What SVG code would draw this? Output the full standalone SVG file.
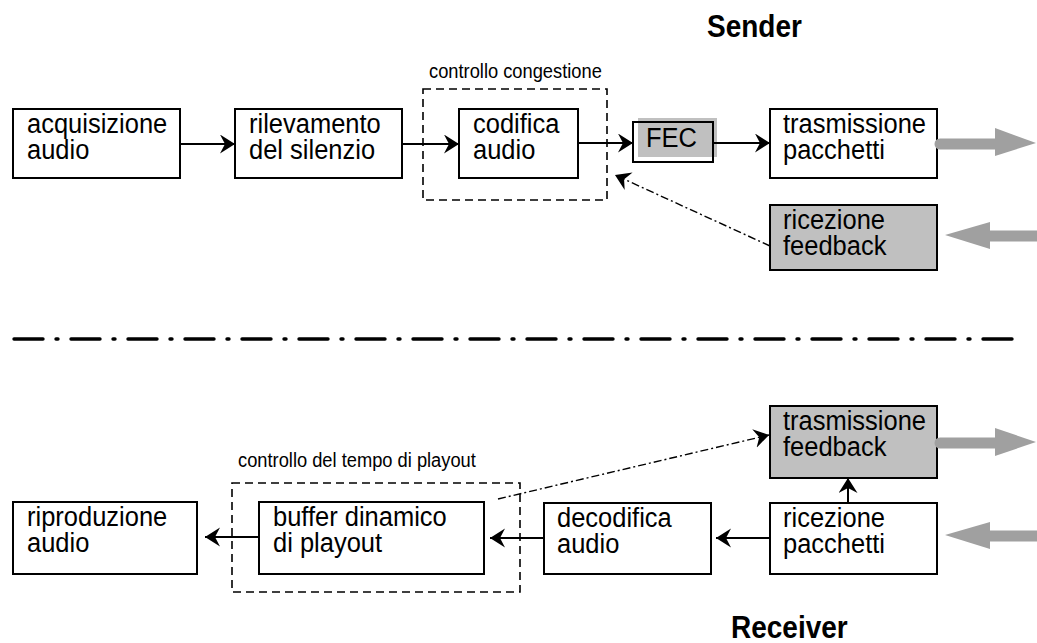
<svg xmlns="http://www.w3.org/2000/svg" width="1037" height="643" viewBox="0 0 1037 643">
  <style>
    .box { fill: #ffffff; stroke: #000000; stroke-width: 2; }
    .grey { fill: #c0c0c0; stroke: #000000; stroke-width: 2; }
    .group { fill: none; stroke: #000000; stroke-width: 1.6; stroke-dasharray: 8 5; }
    .t { font-family: "Liberation Sans", Arial, sans-serif; font-size: 25.5px; fill: #000000; }
    .small { font-family: "Liberation Sans", Arial, sans-serif; font-size: 18.3px; fill: #000000; }
    .title { font-family: "Liberation Sans", Arial, sans-serif; font-size: 28px; font-weight: bold; fill: #000000; }
    .flow { fill: none; stroke: #000000; stroke-width: 2; marker-end: url(#head); }
    .ctrl { fill: none; stroke: #000000; stroke-width: 1.4; stroke-dasharray: 8 3 2 3; marker-end: url(#head); }
    .net { fill: none; stroke: #a0a0a0; stroke-width: 11; }
    .nethead { fill: #a0a0a0; }
  </style>
  <defs>
    <marker id="head" markerUnits="userSpaceOnUse" markerWidth="17" markerHeight="20" refX="15" refY="9.5" orient="auto">
      <path d="M15,9.5 L0,0 L5,9.5 L0,19 Z" fill="#000000"/>
    </marker>
  </defs>

  <rect width="1037" height="643" fill="#ffffff"/>

  <!-- section titles (glyphs drawn slightly tall) -->
  <text class="title" transform="translate(707 37) scale(1 1.09)">Sender</text>
  <text class="title" transform="translate(731 638) scale(1 1.09)">Receiver</text>

  <!-- separator between sender and receiver -->
  <line x1="14" y1="339" x2="1024" y2="339" stroke="#000000" stroke-width="3.4" stroke-linecap="round" stroke-dasharray="29 13 2 13"/>

  <!-- grouping frames -->
  <g id="congestion-control">
    <rect class="group" x="423" y="89" width="184" height="111"/>
    <text class="small" transform="translate(429 78) scale(1 1.09)">controllo congestione</text>
  </g>
  <g id="playout-control">
    <rect class="group" x="232" y="483" width="288" height="109"/>
    <text class="small" transform="translate(238 467) scale(1 1.09)">controllo del tempo di playout</text>
  </g>

  <!-- sender nodes -->
  <g id="acquisizione">
    <rect class="box" x="13" y="109" width="167" height="69"/>
    <text class="t" transform="translate(27 133) scale(1 1.09)">acquisizione</text>
    <text class="t" transform="translate(27 158.5) scale(1 1.09)">audio</text>
  </g>
  <g id="rilevamento">
    <rect class="box" x="235" y="109" width="167" height="69"/>
    <text class="t" transform="translate(249 133) scale(1 1.09)">rilevamento</text>
    <text class="t" transform="translate(249 158.5) scale(1 1.09)">del silenzio</text>
  </g>
  <g id="codifica">
    <rect class="box" x="459" y="109" width="119" height="69"/>
    <text class="t" transform="translate(473 133) scale(1 1.09)">codifica</text>
    <text class="t" transform="translate(473 158.5) scale(1 1.09)">audio</text>
  </g>
  <g id="fec">
    <rect x="638" y="118" width="79" height="39" fill="#c0c0c0"/>
    <rect x="633" y="122" width="80" height="40" fill="none" stroke="#000000" stroke-width="2"/>
    <text class="t" transform="translate(646 147) scale(1 1.09)">FEC</text>
  </g>
  <g id="trasmissione-pacchetti">
    <rect class="box" x="770" y="109" width="167" height="69"/>
    <text class="t" transform="translate(783 133) scale(1 1.09)">trasmissione</text>
    <text class="t" transform="translate(783 158.5) scale(1 1.09)">pacchetti</text>
  </g>
  <g id="ricezione-feedback">
    <rect class="grey" x="770" y="205" width="167" height="65"/>
    <text class="t" transform="translate(783 229) scale(1 1.09)">ricezione</text>
    <text class="t" transform="translate(783 254.5) scale(1 1.09)">feedback</text>
  </g>

  <!-- receiver nodes -->
  <g id="riproduzione">
    <rect class="box" x="13" y="502" width="184" height="72"/>
    <text class="t" transform="translate(27 526) scale(1 1.09)">riproduzione</text>
    <text class="t" transform="translate(27 551.5) scale(1 1.09)">audio</text>
  </g>
  <g id="buffer">
    <rect class="box" x="259" y="502" width="225" height="72"/>
    <text class="t" transform="translate(273 526) scale(1 1.09)">buffer dinamico</text>
    <text class="t" transform="translate(273 551.5) scale(1 1.09)">di playout</text>
  </g>
  <g id="decodifica">
    <rect class="box" x="544" y="503" width="167" height="71"/>
    <text class="t" transform="translate(557 527) scale(1 1.09)">decodifica</text>
    <text class="t" transform="translate(557 552.5) scale(1 1.09)">audio</text>
  </g>
  <g id="ricezione-pacchetti">
    <rect class="box" x="770" y="503" width="167" height="71"/>
    <text class="t" transform="translate(783 527) scale(1 1.09)">ricezione</text>
    <text class="t" transform="translate(783 552.5) scale(1 1.09)">pacchetti</text>
  </g>
  <g id="trasmissione-feedback">
    <rect class="grey" x="770" y="406" width="167" height="72"/>
    <text class="t" transform="translate(783 430) scale(1 1.09)">trasmissione</text>
    <text class="t" transform="translate(783 455.5) scale(1 1.09)">feedback</text>
  </g>

  <!-- connectors -->
  <g id="connectors">
    <line class="flow" x1="180" y1="144" x2="235" y2="144"/>
    <line class="flow" x1="402" y1="144" x2="459" y2="144"/>
    <line class="flow" x1="578" y1="143" x2="633" y2="143"/>
    <line class="flow" x1="713" y1="143" x2="770" y2="143"/>
    <line class="ctrl" x1="770" y1="246" x2="615" y2="175"/>

    <line class="flow" x1="259" y1="537" x2="205" y2="537"/>
    <line class="flow" x1="544" y1="538" x2="490" y2="538"/>
    <line class="flow" x1="770" y1="538" x2="716" y2="538"/>
    <line class="flow" x1="848" y1="503" x2="848" y2="478"/>
    <line class="ctrl" x1="498" y1="499" x2="769" y2="435"/>

    <!-- network links -->
    <line class="net" x1="940" y1="144" x2="996" y2="144" stroke-linecap="round"/>
    <polygon class="nethead" points="995,128 1036,143 995,156"/>
    <line class="net" x1="989" y1="236" x2="1037" y2="236"/>
    <polygon class="nethead" points="990,222 945,235 990,249"/>
    <line class="net" x1="940" y1="443" x2="996" y2="443" stroke-linecap="round"/>
    <polygon class="nethead" points="995,428 1036,442 995,456"/>
    <line class="net" x1="989" y1="536" x2="1037" y2="536"/>
    <polygon class="nethead" points="990,522 945,535 990,549"/>
  </g>
</svg>
